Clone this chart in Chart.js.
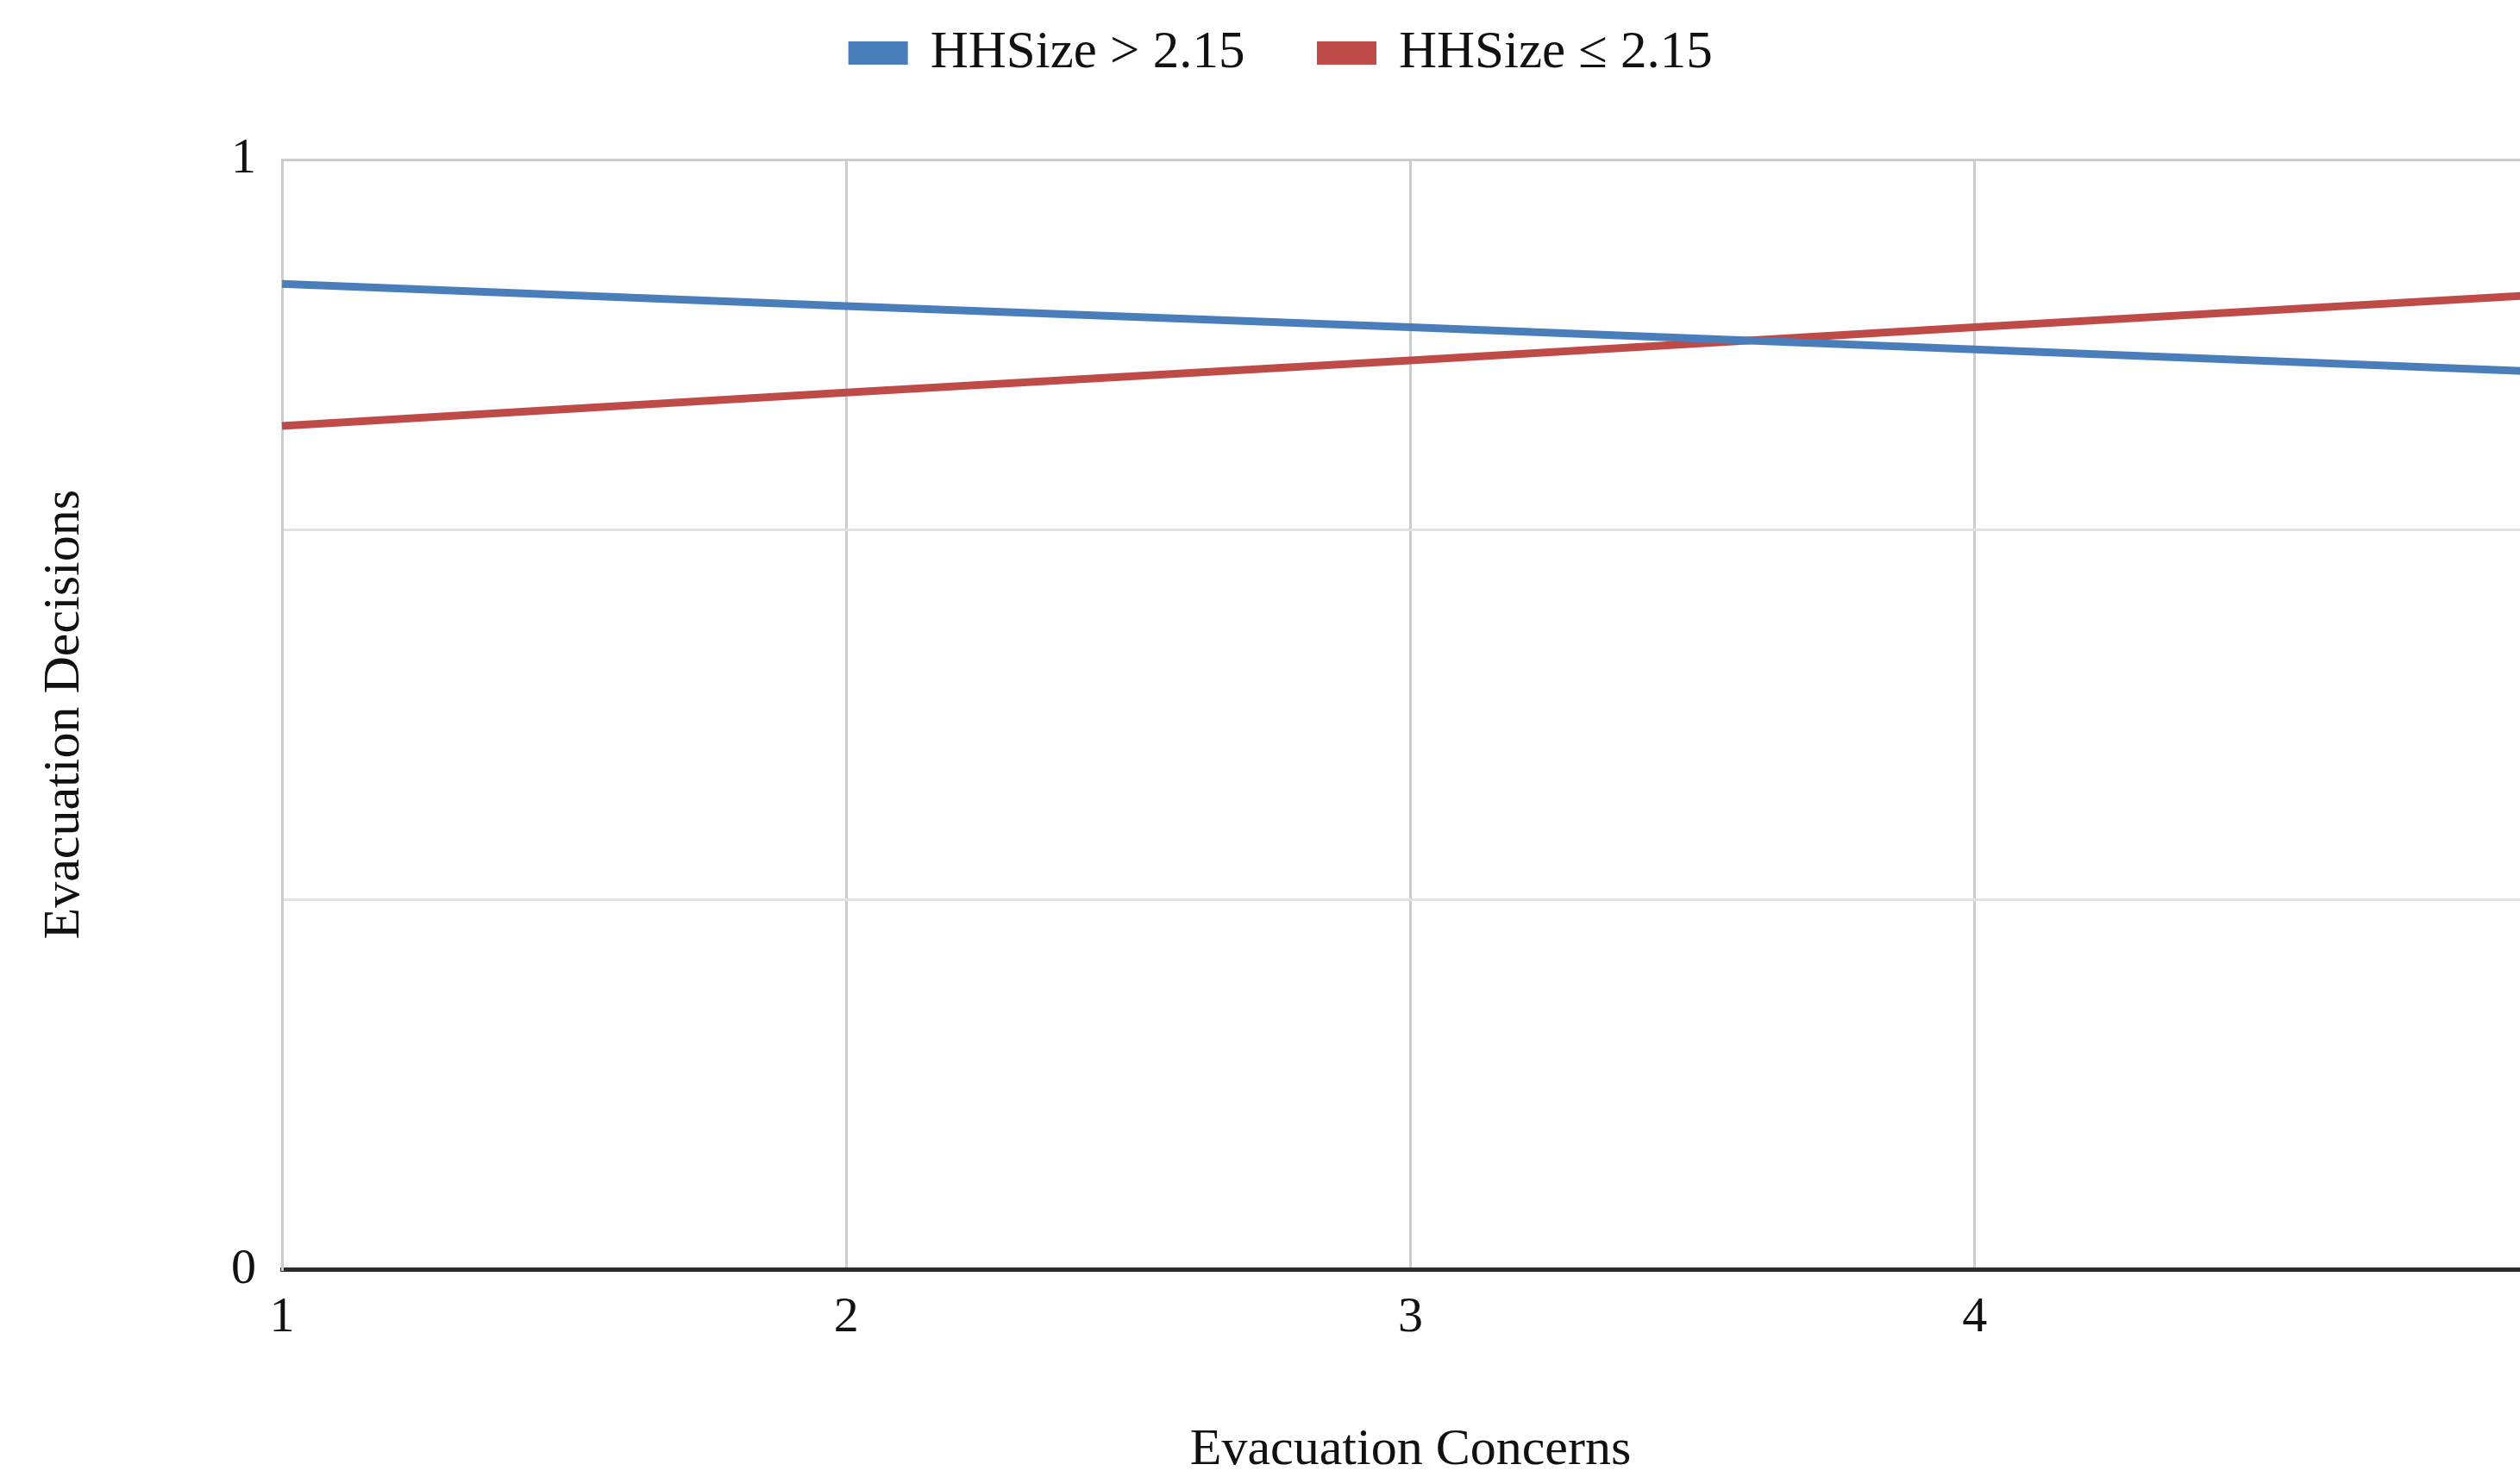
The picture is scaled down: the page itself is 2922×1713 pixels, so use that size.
<!DOCTYPE html>
<html lang="en">
<head>
    <meta charset="UTF-8">
    <title>Evacuation Decisions</title>
    <script src="https://cdn.jsdelivr.net/npm/chart.js"></script>
    <style>
        html, body {
            margin: 0;
            padding: 0;
            background: #ffffff;
            overflow: hidden;
        }
        #wrap {
            width: 2990px;
            height: 1713px;
        }
    </style>
</head>
<body>
    <div id="wrap">
        <canvas id="evacChart" width="2990" height="1713"></canvas>
    </div>

<script>
    // data
    const concernLevels = ['1', '2', '3', '4', '5'];
    const hhLarge = [0.888, 0.868, 0.849, 0.829, 0.809];   // HHSize > 2.15
    const hhSmall = [0.760, 0.790, 0.819, 0.849, 0.878];   // HHSize <= 2.15
    const yTickValues = [0, 1 / 3, 2 / 3, 1];
    const yTickLabels = ['0', '', '', '1'];

    Chart.defaults.font.family = "'Liberation Serif', 'Times New Roman', serif";
    Chart.defaults.font.size = 60;
    Chart.defaults.color = '#111111';

    // extra room between the legend and the plot
    const legendGap = {
        id: 'legendGap',
        beforeInit(chart) {
            const fitLegend = chart.legend.fit;
            chart.legend.fit = function () {
                fitLegend.call(this);
                this.height += 83;
            };
        }
    };

    let ctx = document.getElementById('evacChart').getContext('2d');

    new Chart(ctx, {
        type: 'line',
        data: {
            labels: concernLevels,
            datasets: [{
                label: 'HHSize > 2.15',
                data: hhLarge,
                borderColor: '#4a7ebb',
                backgroundColor: '#4a7ebb',
                borderWidth: 9,
                pointRadius: 0,
                tension: 0,
                fill: false
            }, {
                label: 'HHSize \u2264 2.15',
                data: hhSmall,
                borderColor: '#be4b48',
                backgroundColor: '#be4b48',
                borderWidth: 9,
                pointRadius: 0,
                tension: 0,
                fill: false
            }]
        },
        plugins: [legendGap],
        options: {
            responsive: false,
            animation: false,
            devicePixelRatio: 1,
            layout: {
                padding: { top: -57, left: 30, right: 46, bottom: -5 }
            },
            plugins: {
                legend: {
                    position: 'top',
                    labels: {
                        boxWidth: 60,
                        boxHeight: 18,
                        padding: 88,
                        font: { size: 61 }
                    }
                },
                tooltip: { enabled: false }
            },
            scales: {
                x: {
                    grid: {
                        color: '#cccccc',
                        lineWidth: 3,
                        drawTicks: false
                    },
                    border: {
                        color: '#2b2b2b',
                        width: 5
                    },
                    ticks: {
                        padding: 22,
                        autoSkip: false,
                        maxRotation: 0,
                        font: { size: 58 }
                    },
                    title: {
                        display: true,
                        text: 'Evacuation Concerns',
                        font: { size: 60 },
                        padding: { top: 60, bottom: 0 }
                    }
                },
                y: {
                    min: 0,
                    max: 1,
                    afterBuildTicks: function (axis) {
                        axis.ticks = yTickValues.map(v => ({ value: v }));
                    },
                    grid: {
                        color: function (c) {
                            return c.tick && c.tick.value === 1 ? '#cccccc' : '#e2e2e2';
                        },
                        lineWidth: 3,
                        drawTicks: false
                    },
                    border: {
                        color: '#cccccc',
                        width: 3
                    },
                    ticks: {
                        padding: 30,
                        font: { size: 58 },
                        callback: function (value, index) {
                            return yTickLabels[index];
                        }
                    },
                    title: {
                        display: true,
                        text: 'Evacuation Decisions',
                        font: { size: 60 },
                        padding: { top: 9, bottom: 127 }
                    }
                }
            }
        }
    });
</script>
</body>
</html>
